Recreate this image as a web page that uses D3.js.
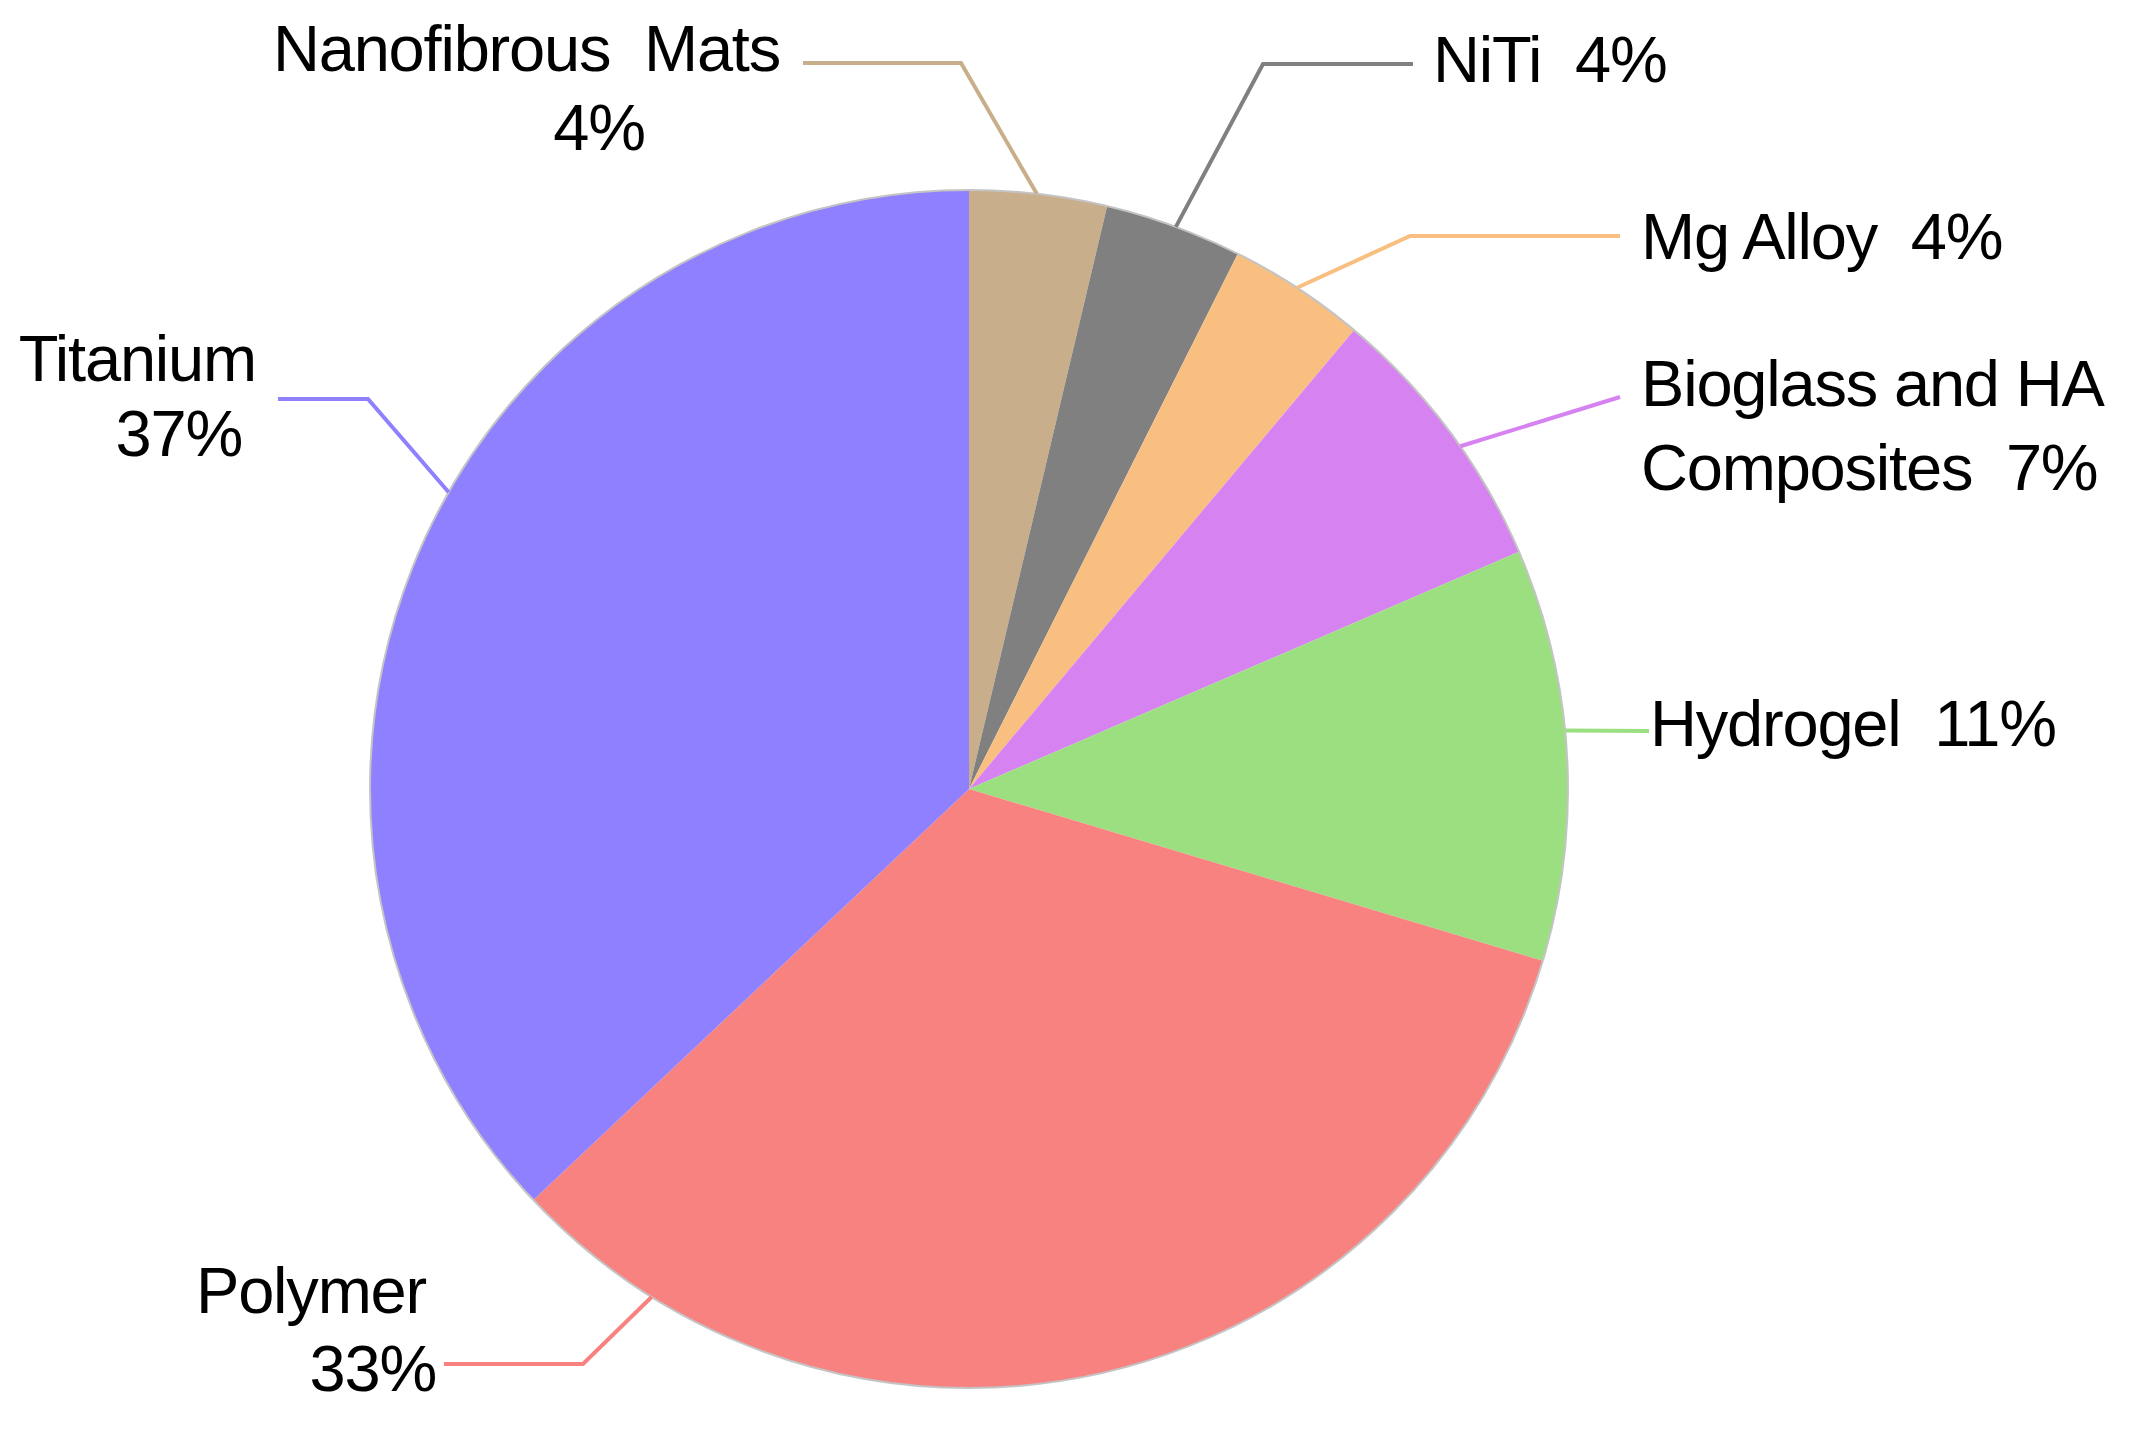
<!DOCTYPE html>
<html>
<head>
<meta charset="utf-8">
<script src="https://cdn.jsdelivr.net/npm/d3@7"></script>
<style>
  body { margin: 0; background: #fff; }
  text { font-family: "Liberation Sans", Arial, sans-serif; white-space: pre; }
</style>
</head>
<body>
<svg></svg>
<script>
// material categories, clockwise from 12 o'clock
var categories = ["Nanofibrous Mats", "NiTi", "Mg Alloy", "Bioglass and HA Composites", "Hydrogel", "Polymer", "Titanium"];
// number of studies per material (27 total)
var counts = [1, 1, 1, 2, 3, 9, 10];
var colours = ["#C9AE8B", "#808080", "#F9BF81", "#D682F0", "#9BDF80", "#F78280", "#8E80FF"];

var screen = {width: 2134, height: 1445};
var center = {x: 969, y: 789};
var radius = 599;

var total = d3.sum(counts);
var pct = d3.format(".0%");

// where each label sits and how its leader line bends
var labelLayout = [
  {attach: 6.5,   elbow: [961, 63],   end: [803, 63],   lines: [{x: 780, y: 71, a: "end"}, {x: 599, y: 150, a: "middle"}]},
  {attach: 20.2,  elbow: [1263, 64],  end: [1413, 64],  lines: [{x: 1433, y: 82, a: "start"}]},
  {attach: 33.2,  elbow: [1410, 236], end: [1620, 236], lines: [{x: 1641, y: 259, a: "start"}]},
  {attach: 55.1,  elbow: null,        end: [1620, 397], lines: [{x: 1641, y: 406, a: "start"}, {x: 1641, y: 490, a: "start"}]},
  {attach: 84.4,  elbow: null,        end: [1649, 731], lines: [{x: 1650, y: 746, a: "start"}]},
  {attach: 212,   elbow: [583, 1364], end: [444, 1364], lines: [{x: 426, y: 1313, a: "end"}, {x: 436, y: 1391, a: "end"}]},
  {attach: 299.7, elbow: [368, 399],  end: [278, 399],  lines: [{x: 256, y: 381, a: "end"}, {x: 242, y: 456, a: "end"}]}
];

var labelText = function(i){
  var p = pct(counts[i] / total);
  if (i == 0) return ["Nanofibrous  Mats", p];
  if (i == 3) return ["Bioglass and HA", "Composites  " + p];
  if (i == 5 || i == 6) return [categories[i], p];
  return [categories[i] + "  " + p];
}

var svg = d3.select("svg")
  .attr("width", screen.width)
  .attr("height", screen.height);

var pie = d3.pie().sort(null).value(function(d){ return d; });
var arc = d3.arc().innerRadius(0).outerRadius(radius);
var arcs = pie(counts);

var g = svg.append("g")
  .attr("transform", "translate(" + center.x + "," + center.y + ")");

g.selectAll("path.slice")
  .data(arcs)
  .enter()
  .append("path")
  .attr("class", "slice")
  .attr("d", arc)
  .attr("fill", function(d, i){ return colours[i]; });

// faint grey rim like the original
g.append("circle")
  .attr("r", radius)
  .attr("fill", "none")
  .attr("stroke", "#c4c4c4")
  .attr("stroke-width", 2);

// leader lines
var line = d3.line();
svg.selectAll("path.leader")
  .data(labelLayout)
  .enter()
  .append("path")
  .attr("class", "leader")
  .attr("d", function(d){
    var p = d3.pointRadial(d.attach * Math.PI / 180, radius);
    var pts = [[center.x + p[0], center.y + p[1]]];
    if (d.elbow) pts.push(d.elbow);
    pts.push(d.end);
    return line(pts);
  })
  .attr("fill", "none")
  .attr("stroke", function(d, i){ return colours[i]; })
  .attr("stroke-width", 4);

// labels
labelLayout.forEach(function(d, i){
  var txt = labelText(i);
  d.lines.forEach(function(l, j){
    svg.append("text")
      .attr("x", l.x)
      .attr("y", l.y)
      .attr("text-anchor", l.a)
      .attr("font-size", 65)
      .attr("letter-spacing", -1.2)
      .attr("fill", "#000")
      .text(txt[j]);
  });
});
</script>
</body>
</html>
